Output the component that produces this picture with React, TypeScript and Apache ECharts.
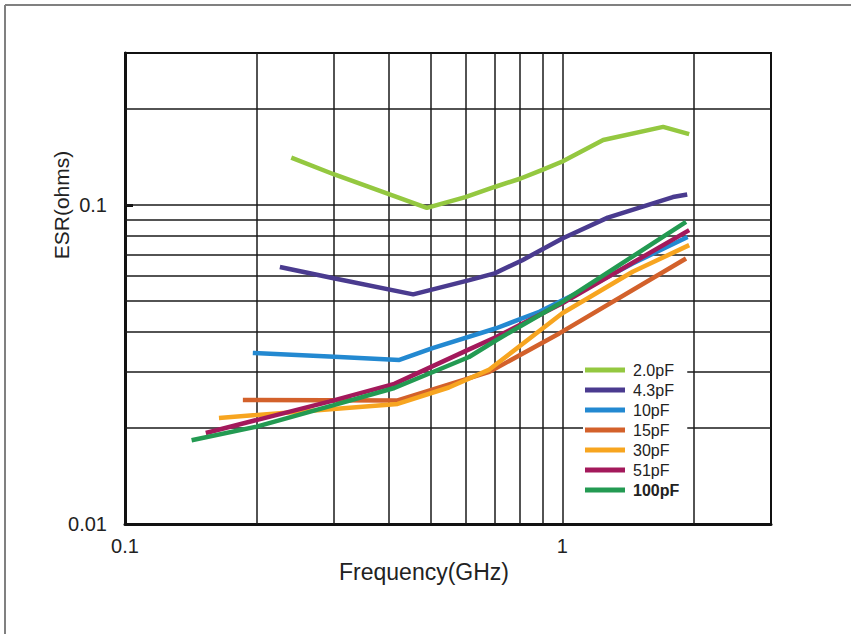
import React, { useEffect, useRef } from "react";
import * as echarts from "echarts";

const FONT = "'Liberation Sans', Arial, Helvetica, sans-serif";

const seriesNames = ["2.0pF", "4.3pF", "10pF", "15pF", "30pF", "51pF", "100pF"];
const seriesColors = ["#94c840", "#4a3b8f", "#2389d1", "#d3612b", "#f7a520", "#a3195b", "#239a52"];

// frequency (GHz) and ESR (ohms) per capacitance
const f20 = [0.24, 0.3, 0.49, 0.6, 0.7, 0.8, 0.9, 1.0, 1.24, 1.7, 1.95];
const e20 = [0.141, 0.125, 0.098, 0.106, 0.114, 0.121, 0.129, 0.137, 0.16, 0.176, 0.167];
const f43 = [0.226, 0.3, 0.456, 0.613, 0.7, 0.81, 1.0, 1.27, 1.79, 1.93];
const e43 = [0.064, 0.059, 0.0525, 0.0582, 0.0611, 0.0672, 0.0786, 0.0914, 0.106, 0.108];
const f10 = [0.196, 0.293, 0.424, 0.505, 0.706, 0.886, 1.113, 1.448, 1.934];
const e10 = [0.0344, 0.0335, 0.0327, 0.0356, 0.0411, 0.0463, 0.0541, 0.0656, 0.0795];
const f15 = [0.186, 0.42, 0.681, 0.984, 1.918];
const e15 = [0.0245, 0.0244, 0.03, 0.0396, 0.068];
const f30 = [0.164, 0.42, 0.55, 0.681, 1.0, 1.448, 1.95];
const e30 = [0.0215, 0.0238, 0.0268, 0.0305, 0.0458, 0.0618, 0.0749];
const f51 = [0.153, 0.293, 0.413, 0.612, 0.706, 1.0, 1.95];
const e51 = [0.0193, 0.0242, 0.0275, 0.0353, 0.0386, 0.0492, 0.0835];
const f100 = [0.142, 0.2, 0.3, 0.413, 0.612, 0.706, 1.0, 1.918];
const e100 = [0.0183, 0.0202, 0.0236, 0.0267, 0.0334, 0.0377, 0.0497, 0.0886];

const freqs = [f20, f43, f10, f15, f30, f51, f100];
const esrs = [e20, e43, e10, e15, e30, e51, e100];

// grid lines and tick labels
const xGridValues = [0.2, 0.3, 0.4, 0.5, 0.6, 0.7, 0.8, 0.9, 1, 2];
const yGridValues = [0.02, 0.03, 0.04, 0.05, 0.06, 0.07, 0.08, 0.09, 0.1, 0.2];
const xTickValues = [0.1, 1];
const xTickLabels = ["0.1", "1"];
const yTickValues = [0.01, 0.1];
const yTickLabels = ["0.01", "0.1"];
const xRange = [0.1, 3];
const yRange = [0.01, 0.3];

const xTitle = "Frequency(GHz)";
const yTitle = "ESR(ohms)";

function labelFor(values: number[], labels: string[]) {
  return (v: number) => {
    for (let i = 0; i < values.length; i++) {
      if (Math.abs(v - values[i]) / values[i] < 1e-6) return labels[i];
    }
    return "";
  };
}

export default function App() {
  const ref = useRef<HTMLDivElement>(null);

  useEffect(() => {
    if (!ref.current) return;
    const chart = echarts.init(ref.current, null, { renderer: "svg" });

    const dataSeries = seriesNames.map((name, i) => ({
      name,
      type: "line",
      data: freqs[i].map((f, j) => [f, esrs[i][j]]),
      symbol: "none",
      showSymbol: false,
      color: seriesColors[i],
      lineStyle: { color: seriesColors[i], width: 4.5 },
      z: 3,
    }));

    const gridSeries = {
      name: "__grid",
      type: "line",
      data: [[1, 0.1]],
      symbol: "none",
      showSymbol: false,
      lineStyle: { opacity: 0 },
      z: 1,
      markLine: {
        z: 1,
        silent: true,
        symbol: ["none", "none"],
        label: { show: false },
        lineStyle: { color: "#1a1a1a", width: 1.5, type: "solid" },
        emphasis: { disabled: true },
        data: [
          ...xGridValues.map((v) => ({ xAxis: v })),
          ...yGridValues.map((v) => ({ yAxis: v })),
        ],
      },
    };

    chart.setOption({
      animation: false,
      backgroundColor: "#ffffff",
      grid: {
        left: 125,
        top: 53,
        width: 646,
        height: 471,
        show: true,
        borderColor: "#111",
        borderWidth: 2,
        backgroundColor: "transparent",
      },
      xAxis: {
        type: "log",
        logBase: 10,
        min: xRange[0],
        max: xRange[1],
        splitLine: { show: false },
        axisLine: { show: true, lineStyle: { color: "#111", width: 3 } },
        axisTick: { show: false },
        axisLabel: {
          showMaxLabel: false,
          margin: 12,
          fontSize: 20,
          color: "#222",
          fontFamily: FONT,
          formatter: labelFor(xTickValues, xTickLabels),
        },
      },
      yAxis: {
        type: "log",
        logBase: 10,
        min: yRange[0],
        max: yRange[1],
        splitLine: { show: false },
        axisLine: { show: true, lineStyle: { color: "#111", width: 3 } },
        axisTick: { show: true, inside: true, length: 8, lineStyle: { color: "#111", width: 3 } },
        axisLabel: {
          showMaxLabel: false,
          margin: 18,
          fontSize: 20,
          color: "#222",
          fontFamily: FONT,
          formatter: labelFor(yTickValues, yTickLabels),
        },
      },
      legend: {
        data: seriesNames,
        orient: "vertical",
        left: 583,
        top: 358,
        z: 10,
        icon: "rect",
        itemWidth: 40,
        itemHeight: 5,
        itemGap: 4,
        backgroundColor: "#ffffff",
        padding: [4, 8, 6, 2],
        selectedMode: false,
        formatter: (name: string) => (name === "100pF" ? "{b|" + name + "}" : name),
        textStyle: {
          fontSize: 16,
          lineHeight: 16,
          color: "#222",
          fontFamily: FONT,
          padding: [0, 0, 0, 3],
          rich: {
            b: { fontSize: 16, lineHeight: 16, fontWeight: "bold", color: "#222", fontFamily: FONT },
          },
        },
      },
      graphic: [
        {
          type: "line",
          shape: { x1: 5, y1: 5, x2: 851, y2: 5 },
          style: { stroke: "#808080", lineWidth: 2 },
        },
        {
          type: "line",
          shape: { x1: 5, y1: 5, x2: 5, y2: 634 },
          style: { stroke: "#808080", lineWidth: 2 },
        },
        {
          type: "text",
          x: 424,
          y: 572,
          style: {
            text: xTitle,
            fontSize: 23,
            fontFamily: FONT,
            fill: "#222",
            align: "center",
            verticalAlign: "middle",
          },
        },
        {
          type: "text",
          x: 61,
          y: 205,
          rotation: Math.PI / 2,
          style: {
            text: yTitle,
            fontSize: 21,
            fontFamily: FONT,
            fill: "#222",
            align: "center",
            verticalAlign: "middle",
          },
        },
      ],
      series: [gridSeries, ...dataSeries],
    });

    return () => chart.dispose();
  }, []);

  return (
    <div
      ref={ref}
      style={{ position: "absolute", left: 0, top: 0, width: 851, height: 634, background: "#fff" }}
    />
  );
}
